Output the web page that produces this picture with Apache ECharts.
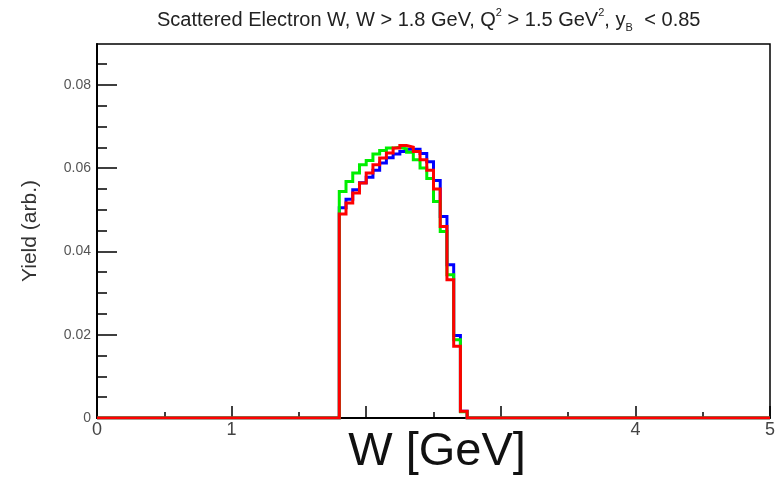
<!DOCTYPE html>
<html>
<head>
<meta charset="utf-8">
<script src="https://cdn.jsdelivr.net/npm/echarts@6/dist/echarts.min.js"></script>
<style>
html,body{margin:0;padding:0;background:#fff;}
#chart{width:775px;height:477px;}
</style>
</head>
<body>
<div id="chart"></div>
<script>
// Histogram binning (GeV)
const binStart = 1.80;
const binWidth = 0.05;
const xMin = 0, xMax = 5;
// Bin contents for bins starting at 1.80, 1.85, ... 2.70
const blueValues  = [0.0505,0.0525,0.0548,0.0565,0.0578,0.0595,0.0612,0.0625,0.0634,0.0640,0.0645,0.0645,0.0635,0.0615,0.0570,0.0484,0.0368,0.0198,0.0016];
const greenValues = [0.0544,0.0568,0.0588,0.0608,0.0618,0.0634,0.0642,0.0648,0.0650,0.0646,0.0638,0.0620,0.0600,0.0575,0.0520,0.0448,0.0344,0.0188,0.0015];
const redValues   = [0.0490,0.0516,0.0540,0.0564,0.0588,0.0608,0.0624,0.0636,0.0648,0.0654,0.0650,0.0640,0.0620,0.0595,0.0550,0.0460,0.0332,0.0172,0.0016];
const xTickLabels = ['0','1','','','4','5'];
const yMajorTicks = [0,0.02,0.04,0.06,0.08];
const yMinorTicks = [0.005,0.01,0.015,0.025,0.03,0.035,0.045,0.05,0.055,0.065,0.07,0.075,0.085];
const yLabels = ['0','0.02','0.04','0.06','0.08'];
const yMaxValue = 0.0898;

function outline(vals){
  const pts = [[xMin,0]];
  for(let i=0;i<vals.length;i++){
    const lo = +(binStart + i*binWidth).toFixed(4);
    const hi = +(binStart + (i+1)*binWidth).toFixed(4);
    if(i===0) pts.push([lo,0]);
    pts.push([lo,vals[i]]);
    pts.push([hi,vals[i]]);
    if(i===vals.length-1){ pts.push([hi,0]); }
  }
  pts.push([xMax,0]);
  return pts;
}

const chart = echarts.init(document.getElementById('chart'), null, {renderer:'canvas'});
const labelFont = 'Liberation Sans';
function mkSeries(vals,color,z){
  return {type:'line', data: outline(vals), showSymbol:false, symbol:'none',
    lineStyle:{color:color,width:3,join:'miter'}, itemStyle:{color:color}, z:z, animation:false, xAxisIndex:0, yAxisIndex:0};
}
chart.setOption({
  animation:false,
  backgroundColor:'#fff',
  grid:{left:97,right:5,top:44,bottom:59,show:true,borderColor:'#000',borderWidth:1.5,containLabel:false,outerBoundsMode:'none'},
  xAxis:{type:'value',min:xMin,max:xMax,interval:1,
    axisLine:{show:true,onZero:false,lineStyle:{color:'#000',width:2}},
    axisTick:{show:true,inside:true,length:12,lineStyle:{color:'#000',width:1.5}},
    minorTick:{show:true,splitNumber:2,length:6,lineStyle:{color:'#000',width:1.5}},
    splitLine:{show:false},
    axisLabel:{fontFamily:labelFont,fontSize:18,color:'#444',margin:3,
      formatter:(v)=>xTickLabels[Math.round(v)] || ''}
  },
  yAxis:[{type:'value',min:0,max:yMaxValue,
    axisLine:{show:true,onZero:false,lineStyle:{color:'#000',width:2}},
    axisTick:{show:true,inside:true,length:20,customValues:yMajorTicks,lineStyle:{color:'#000',width:1.5}},
    splitLine:{show:false},
    axisLabel:{fontFamily:labelFont,fontSize:14,color:'#555',margin:6,customValues:yMajorTicks,
      formatter:(v)=>{const i=yMajorTicks.findIndex(t=>Math.abs(t-v)<1e-9);return i>=0?yLabels[i]:'';}},
    name:'Yield (arb.)',nameLocation:'middle',nameGap:56,nameRotate:90,
    nameTextStyle:{fontFamily:labelFont,fontSize:21,color:'#333'}
  },{type:'value',min:0,max:yMaxValue,position:'left',
    axisLine:{show:false},
    axisTick:{show:true,inside:true,length:10,customValues:yMinorTicks,lineStyle:{color:'#000',width:1.5}},
    axisLabel:{show:false},splitLine:{show:false}
  }],
  graphic:[{type:'text',left:157,top:7,
    style:{text:'Scattered Electron W, W > 1.8 GeV, Q{sup|2} > 1.5 GeV{sup|2}, y{sub|B} < 0.85',
      font:'20px "Liberation Sans"',fill:'#222',
      rich:{sup:{fontSize:11,fontFamily:'Liberation Sans',verticalAlign:'top',fill:'#222'},
            sub:{fontSize:11,fontFamily:'Liberation Sans',verticalAlign:'bottom',padding:[15,6,0,0],fill:'#222'}}}
  },{type:'text',x:437,y:429,z:10,
    style:{text:'W [GeV]',font:'47px "Liberation Sans"',fill:'#111',align:'center',verticalAlign:'top'}
  }],
  series:[mkSeries(blueValues,'#0000ff',2),mkSeries(greenValues,'#00ee00',3),mkSeries(redValues,'#ff0000',4)]
});
</script>
</body>
</html>
